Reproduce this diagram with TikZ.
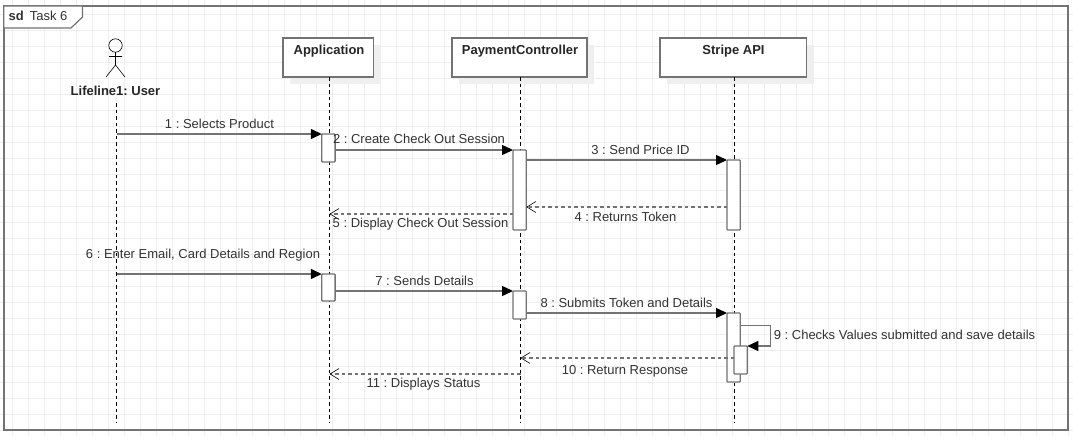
\documentclass[tikz,border=0pt]{standalone}
\usepackage{fontspec}
\setmainfont{Liberation Sans}
\usetikzlibrary{arrows.meta}
\definecolor{linegray}{HTML}{737373}
\definecolor{gridgray}{HTML}{EEEEEE}
\definecolor{shadowgray}{HTML}{EFEFEF}
\definecolor{txtgray}{HTML}{333333}
\tikzset{
  lifebox/.style={draw=linegray,line width=1.4pt,fill=white,minimum height=39pt,inner sep=0pt,outer sep=0pt,anchor=north west},
  lifetitle/.style={font=\fontsize{13}{15}\selectfont\bfseries,text=black!85,inner sep=0pt},
  lifeline/.style={draw=black,line width=.9pt,dash pattern=on 3.5pt off 3pt},
  activation/.style={draw=linegray,line width=1.3pt,fill=white,rounded corners=.8pt,inner sep=0pt,outer sep=0pt,anchor=north west,minimum width=13.3pt},
  syncmsg/.style={draw=linegray,line width=1.4pt,-{Triangle[length=11pt,width=10pt,fill=black,black]}},
  retmsg/.style={draw=linegray,line width=1.2pt,dash pattern=on 3.5pt off 3pt,-{Straight Barb[length=9pt,width=11pt,black,line width=.6pt]}},
  msglabel/.style={font=\fontsize{13}{15}\selectfont,text=txtgray,inner sep=0pt},
}
\begin{document}
\frenchspacing
\begin{tikzpicture}[x=1pt,y=-1pt]
\useasboundingbox (0,0) rectangle (1073,436);
\fill[white] (0,0) rectangle (1073,436);
\foreach \i in {0,...,66} \draw[gridgray,line width=.9pt] ({12.5+16*\i},0) -- ({12.5+16*\i},436);
\foreach \i in {0,...,26} \draw[gridgray,line width=.9pt] (0,{14.5+16*\i}) -- (1073,{14.5+16*\i});
% frame
\node[draw=linegray,line width=1.6pt,minimum width=1064.5pt,minimum height=424pt,inner sep=0pt,outer sep=0pt,anchor=north west] (frame) at (3.7,6) {};
\draw[draw=linegray,line width=1.2pt,fill=white] (3.7,6) -- (82.5,6) -- (82.5,17) -- (71,28) -- (3.7,28) -- cycle;
\node[inner sep=0pt,anchor=base west,font=\fontsize{13}{15}\selectfont,text=txtgray] (ftitle) at (8.5,21) {\textbf{sd}\hspace{6pt}Task 6};
% actor
\draw[black,line width=.6pt] (115.5,45.5) circle (6.7);
\draw[black,line width=.6pt] (115.5,52.2) -- (115.5,65) (109,56.5) -- (122,56.5) (106,77) -- (115.5,65) -- (125,77);
\node[lifetitle] (user) at (115.5,90.5) {Lifeline1: User};
% shadows
\fill[shadowgray] (290,45) rectangle (381,84);
\fill[shadowgray] (459,45) rectangle (594,84);
\fill[shadowgray] (667,45) rectangle (814,84);
% lifelines heads
\node[lifebox,minimum width=90.5pt] (app) at (283,38) {};
\node[lifebox,minimum width=135pt] (pay) at (452,38) {};
\node[lifebox,minimum width=146.5pt] (stripe) at (660,38) {};
\node[lifetitle,anchor=base] at (329,54.5) {Application};
\node[lifetitle,anchor=base] at (520,54.5) {PaymentController};
\node[lifetitle,anchor=base] at (733.5,54.5) {Stripe API};
% lifelines
\coordinate (uEnd) at (116.5,422);
\coordinate (aEnd) at (329.5,422);
\coordinate (pEnd) at (520.5,422);
\coordinate (sEnd) at (734.5,422);
\draw[lifeline] (116.5,103) -- (uEnd);
\draw[lifeline] (329.5,77) -- (aEnd);
\draw[lifeline] (520.5,77) -- (pEnd);
\draw[lifeline] (734.5,77) -- (sEnd);
% activations
\node[activation,minimum height=28pt] (a1) at (321.8,134) {};
\node[activation,minimum height=80pt] (p1) at (513,150) {};
\node[activation,minimum height=70pt] (s1) at (727,160) {};
\node[activation,minimum height=27pt] (a2) at (321.8,274) {};
\node[activation,minimum height=28pt] (p2) at (513,291) {};
\node[activation,minimum height=69pt] (s2) at (727,313) {};
\node[activation,minimum height=28pt] (s3) at (734,346) {};
% free ends
\coordinate (u1) at (116.5,134);
\coordinate (u6) at (116.5,274);
\coordinate (a5) at (329.5,214);
\coordinate (a11) at (329.5,374);
\coordinate (p10) at (520.5,358);
% messages
\draw[syncmsg] (u1) -- (a1.north west);
\draw[syncmsg] (a1.east |- 0,150) -- (p1.north west);
\draw[syncmsg] (p1.east |- 0,160) -- (s1.north west);
\draw[retmsg] (s1.west |- 0,207) -- (p1.east |- 0,207);
\draw[retmsg] (p1.west |- 0,214) -- (a5);
\draw[syncmsg] (u6) -- (a2.north west);
\draw[syncmsg] (a2.east |- 0,291) -- (p2.north west);
\draw[syncmsg] (p2.east |- 0,313) -- (s2.north west);
\draw[syncmsg] (s2.east |- 0,325.5) -- (770.5,325.5) -- (770.5,346) -- (s3.north east);
\draw[retmsg] (s3.west |- 0,358) -- (p10);
\draw[retmsg] (p10 |- 0,374) -- (a11);
% labels
\node[msglabel] at (219.5,124) {1 : Selects Product};
\node[msglabel] at (419,139) {2 : Create Check Out Session};
\node[msglabel] at (640.5,149.5) {3 : Send Price ID};
\node[msglabel] at (625.5,216.5) {4 : Returns Token};
\node[msglabel] at (420.5,224) {5 : Display Check Out Session};
\node[msglabel] at (203,255.5) {6 : Enter Email, Card Details and Region};
\node[msglabel] at (424.5,281) {7 : Sends Details};
\node[msglabel] at (626.5,302.5) {8 : Submits Token and Details};
\node[msglabel] at (904.5,335) {9 : Checks Values submitted and save details};
\node[msglabel] at (625,371.5) {10 : Return Response};
\node[msglabel] at (423.5,384) {11 : Displays Status};
\end{tikzpicture}
\end{document}
